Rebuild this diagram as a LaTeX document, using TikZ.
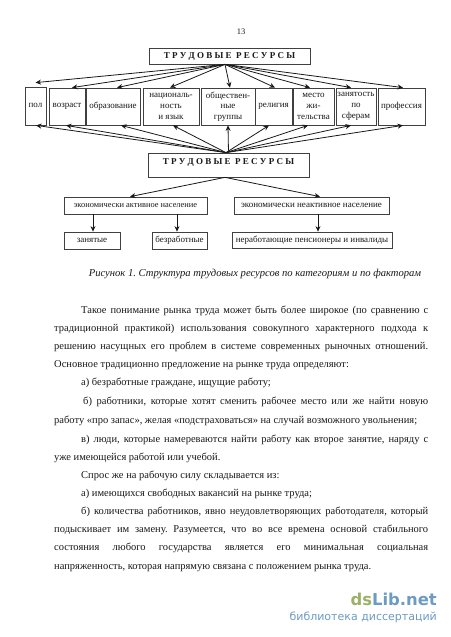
\documentclass[tikz,border=0pt]{standalone}
\usepackage{fontspec}
\setmainfont{Liberation Serif}
\newfontfamily\wmfont{DejaVu Sans}
\usetikzlibrary{arrows.meta}
\definecolor{ink}{gray}{0.1}
\definecolor{boxline}{gray}{0.25}
\definecolor{wmgreen}{HTML}{9DB06A}
\definecolor{wmblue}{HTML}{6E9BC4}
\frenchspacing
\tikzset{
  x=1pt,y=-1pt,
  every node/.style={text=ink,font=\fontsize{9}{10.7}\selectfont,align=center,inner sep=0pt},
  bx/.style={draw=boxline,line width=0.75pt,fill=white,rectangle},
  arr/.style={draw=ink,line width=0.8pt,-{Stealth[length=5.5pt,width=5pt]}},
  bodyline/.style={anchor=base west,font=\fontsize{10.5}{12}\selectfont},
}
\newcommand{\boxat}[6]{\node[bx,minimum width=#4pt-#3pt,minimum height=#6pt-#5pt,anchor=center] (#1) at ({(#3+#4)/2},{(#5+#6)/2}) {#2};}
\newcommand{\jl}[5]{\node[bodyline] (#1) at (#2,#3) {\makebox[#4pt][s]{#5}};}
\newcommand{\pl}[4]{\node[bodyline] (#1) at (#2,#3) {#4};}
\newcommand{\upto}[2]{\draw[arr] ([xshift=-4.5pt]tr1.south) -- ([xshift=#2pt]#1.north);}
\newcommand{\dnto}[2]{\draw[arr] ([xshift=-2.5pt]tr2.north) -- ([xshift=#2pt]#1.south);}
\begin{document}
\begin{tikzpicture}
\useasboundingbox (0,0) rectangle (450,637);
\fill[white] (0,0) rectangle (450,637);
\node[font=\fontsize{8.5}{9}\selectfont] (pg) at (241,32) {13};
\boxat{tr1}{\textbf{Т Р У Д О В Ы Е\ \ Р Е С У Р С Ы}}{149}{310}{48}{64}
\boxat{tr2}{\raisebox{6pt}{\textbf{Т Р У Д О В Ы Е\ \ Р Е С У Р С Ы}}}{148}{309}{153}{177}
\boxat{a}{\raisebox{1pt}{пол}}{25}{46}{87}{125}
\boxat{b}{возраст}{49}{85}{88}{125}
\boxat{c}{образование}{86}{140}{88}{125}
\boxat{d}{националь-\\ность\\и язык}{143}{199}{88}{125}
\boxat{e}{обществен-\\ные\\группы}{201}{255}{88}{125}
\boxat{f}{религия}{255}{292}{88}{125}
\boxat{g}{место\\жи-\\тельства}{293}{334}{88}{125}
\boxat{h}{занятость\\по\\сферам}{336}{376}{88}{125}
\boxat{i}{профессия}{378}{425}{88}{125}
\boxat{act}{\fontsize{8.4}{10}\selectfont экономически активное население}{64}{207}{197}{214}
\boxat{ina}{экономически неактивное население}{234}{389}{197}{214}
\boxat{emp}{занятые}{64}{120}{232}{249}
\boxat{une}{безработные}{152}{207}{232}{249}
\boxat{ret}{неработающие пенсионеры и инвалиды}{232}{392}{232}{248}
\draw[arr] ([xshift=-4.5pt]tr1.south) -- ([yshift=4pt]a.north);
\upto{b}{5}
\upto{c}{4}
\upto{d}{-1}
\upto{e}{2}
\upto{f}{1.5}
\upto{g}{-3.5}
\upto{h}{-5}
\upto{i}{1.5}
\dnto{a}{0.5}
\dnto{b}{-1}
\dnto{c}{8}
\dnto{d}{2}
\draw[arr] (tr2.north) -- (e.south);
\dnto{f}{-4.5}
\dnto{g}{-5.5}
\dnto{h}{-5}
\dnto{i}{1.5}
\draw[arr] ([xshift=-3.5pt]tr2.south) -- ([xshift=-5.5pt]act.north);
\draw[arr] ([xshift=-3.5pt]tr2.south) -- ([xshift=8.5pt]ina.north);
\draw[arr] ([xshift=1pt]emp.north |- act.south) -- ([xshift=1pt]emp.north);
\draw[arr] ([xshift=-2.5pt]une.north |- act.south) -- ([xshift=-2.5pt]une.north);
\draw[arr] ([xshift=6pt]ret.north |- ina.south) -- ([xshift=6pt]ret.north);
\node[font=\itshape\fontsize{10.6}{12}\selectfont,anchor=base] (cap) at (255,276) {Рисунок 1. Структура трудовых ресурсов по категориям и по факторам};
\jl{l1}{81}{313}{347}{Такое понимание рынка труда может быть более широкое (по сравнению с}
\jl{l2}{54}{331}{374}{традиционной практикой) использования совокупного характерного подхода к}
\jl{l3}{54}{349}{374}{решению насущных его проблем в системе современных рыночных отношений.}
\pl{l4}{54}{367}{Основное традиционно предложение на рынке труда определяют:}
\pl{l5}{81}{385}{а) безработные граждане, ищущие работу;}
\jl{l6}{83}{404}{345}{б) работники, которые хотят сменить рабочее место или же найти новую}
\pl{l7}{54}{423}{работу «про запас», желая «подстраховаться» на случай возможного увольнения;}
\jl{l8}{81}{442}{347}{в) люди, которые намереваются найти работу как второе занятие, наряду с}
\pl{l9}{54}{460}{уже имеющейся работой или учебой.}
\pl{l10}{81}{478}{Спрос же на рабочую силу складывается из:}
\pl{l11}{81}{496}{а) имеющихся свободных вакансий на рынке труда;}
\jl{l12}{81}{514}{347}{б) количества работников, явно неудовлетворяющих работодателя, который}
\jl{l13}{54}{532}{374}{подыскивает им замену. Разумеется, что во все времена основой стабильного}
\jl{l14}{54}{550}{374}{состояния любого государства является его минимальная социальная}
\pl{l15}{54}{569}{напряженность, которая напрямую связана с положением рынка труда.}
\node[anchor=base east,font=\wmfont\bfseries\fontsize{16.4}{18}\selectfont] (wm1) at (437,605) {\textcolor{wmgreen}{ds}\textcolor{wmblue}{Lib.net}};
\node[anchor=base east,font=\wmfont\fontsize{11}{12}\selectfont,text=wmblue] (wm2) at (437,620) {библиотека диссертаций};
\end{tikzpicture}
\end{document}
